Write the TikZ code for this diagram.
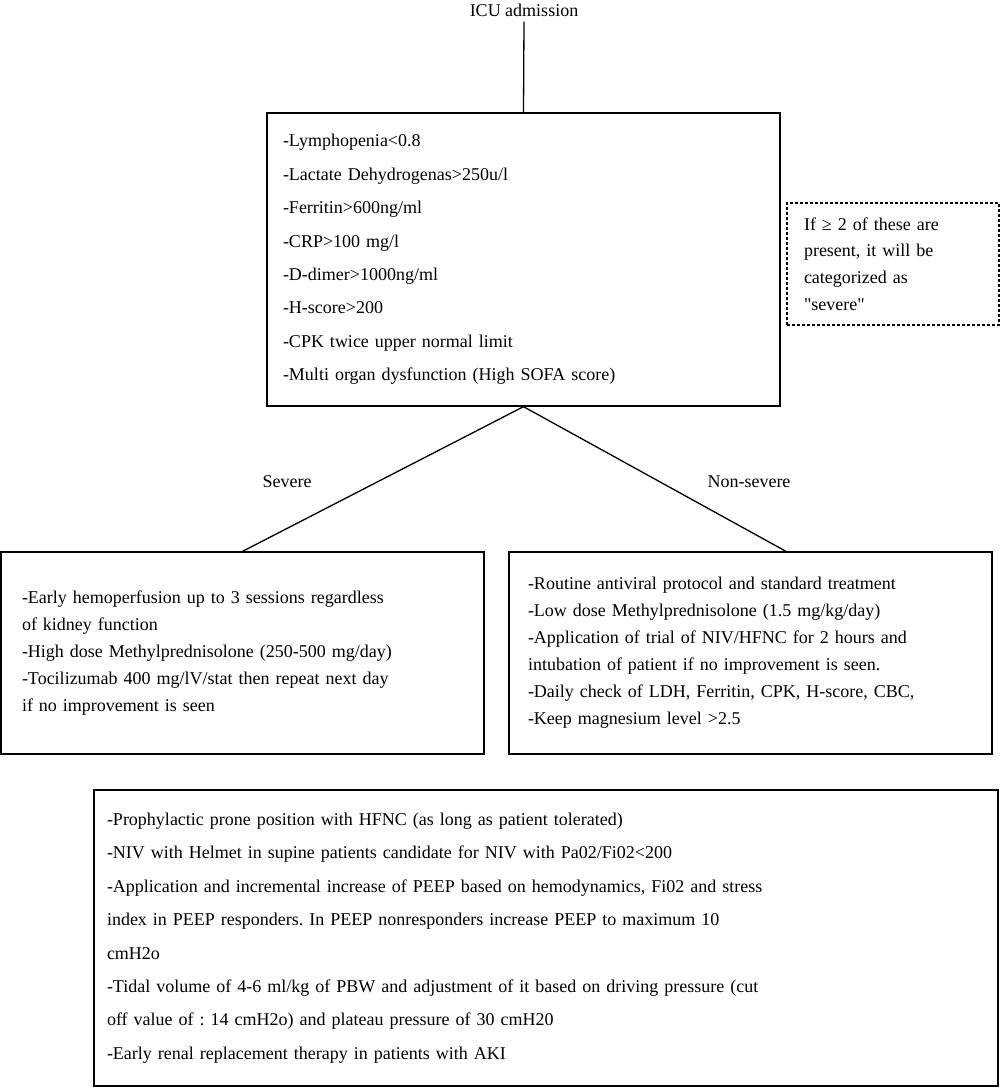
\documentclass[tikz,border=0pt]{standalone}
\usepackage{fontspec}
\setmainfont{Liberation Serif}
\newfontfamily\rawq{Liberation Serif}[Ligatures=TeXOff]
\frenchspacing
\begin{document}
\begin{tikzpicture}[x=1pt,y=-1pt,
  box/.style={draw,line width=1.3pt,inner ysep=0pt,align=left,anchor=center},
  wide/.style={font=\fontsize{18}{33.4}\selectfont},
  mid/.style={font=\fontsize{18}{27}\selectfont},
  lbl/.style={font=\fontsize{18}{20}\selectfont,inner sep=1pt},
  conn/.style={line width=1.3pt}]
\useasboundingbox (0,0) rectangle (1000,1088);
\node[lbl] (icu) at (524,10) {ICU admission};
\node[box,wide,minimum width=513pt,minimum height=293pt,text width=481pt,inner xsep=16pt] (top) at (523.5,259.5)
 {-Lymphopenia<0.8\\-Lactate Dehydrogenas>250u/l\\-Ferritin>600ng/ml\\-CRP>100 mg/l\\-D-dimer>1000ng/ml\\-H-score>200\\-CPK twice upper normal limit\\-Multi organ dysfunction (High SOFA score)};
\node[box,dash pattern=on 3pt off 2pt,font=\fontsize{18}{26.7}\selectfont,minimum width=212pt,minimum height=122pt,text width=178pt,inner xsep=17pt] (note) at (893,264)
 {If ≥ 2 of these are\\present, it will be\\categorized as\\{\rawq "severe"}};
\node[lbl] (sev) at (287,482) {Severe};
\node[lbl] (nonsev) at (749,482) {Non-severe};
\node[box,mid,minimum width=483pt,minimum height=202pt,text width=441pt,inner xsep=21pt] (left) at (242.5,653)
 {-Early hemoperfusion up to 3 sessions regardless\\of kidney function\\-High dose Methylprednisolone (250-500 mg/day)\\-Tocilizumab 400 mg/lV/stat then repeat next day\\if no improvement is seen};
\node[box,mid,minimum width=483pt,minimum height=202pt,text width=445pt,inner xsep=19pt] (right) at (750.5,653)
 {-Routine antiviral protocol and standard treatment\\-Low dose Methylprednisolone (1.5 mg/kg/day)\\-Application of trial of NIV/HFNC for 2 hours and\\intubation of patient if no improvement is seen.\\-Daily check of LDH, Ferritin, CPK, H-score, CBC,\\-Keep magnesium level >2.5};
\node[box,wide,minimum width=904pt,minimum height=296pt,text width=878pt,inner xsep=13pt] (bottom) at (546,938)
 {-Prophylactic prone position with HFNC (as long as patient tolerated)\\-NIV with Helmet in supine patients candidate for NIV with Pa02/Fi02<200\\-Application and incremental increase of PEEP based on hemodynamics, Fi02 and stress\\index in PEEP responders. In PEEP nonresponders increase PEEP to maximum 10\\cmH2o\\-Tidal volume of 4-6 ml/kg of PBW and adjustment of it based on driving pressure (cut\\off value of : 14 cmH2o) and plateau pressure of 30 cmH20\\-Early renal replacement therapy in patients with AKI};
\draw[conn] (icu.south) ++(0,4) -- (top.north);
\draw[conn] (top.south) -- (left.north);
\draw[conn] (top.south) -- ([xshift=35.5pt]right.north);
\end{tikzpicture}
\end{document}
